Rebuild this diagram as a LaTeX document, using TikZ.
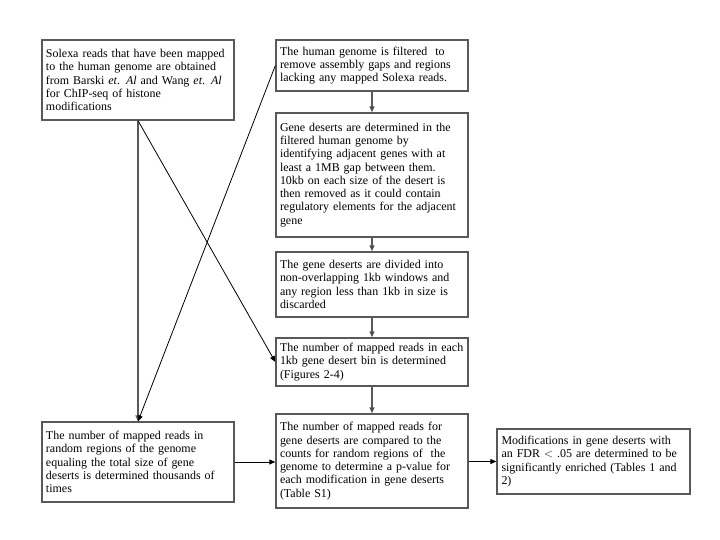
\documentclass[tikz,border=0pt]{standalone}
\usepackage{fontspec}
\setmainfont{Liberation Serif}
\usetikzlibrary{arrows.meta}
\tikzset{
  stepbox/.style={draw=black!65, line width=1.3bp, rectangle, fill=white,
    minimum width=192bp, inner xsep=4bp, inner ysep=2bp, text width=184bp,
    align=left, font=\fontsize{12}{13.3}\selectfont},
  vflow/.style={draw=black!65, line width=1.3bp, -{Triangle[length=6bp,width=5bp,fill=black]}},
  thinflow/.style={draw=black, line width=0.8bp, -{Triangle[length=6bp,width=5bp]}}
}
\begin{document}
\begin{tikzpicture}[x=1bp,y=-1bp]
\useasboundingbox[fill=white] (0,0) rectangle (720,540);

\node[stepbox, minimum height=80bp] (A) at (138,80)
  {Solexa reads that have been mapped\\to the human genome are obtained\\from Barski \textit{et}. \textit{Al} and Wang \textit{et}. \textit{Al}\\for ChIP-seq of histone\\modifications};
\node[stepbox, minimum height=51bp] (B) at (372,65.5)
  {The human genome is filtered\ \ to\\remove assembly gaps and regions\\lacking any mapped Solexa reads.};
\node[stepbox, minimum height=124bp] (C) at (372,175)
  {Gene deserts are determined in the\\filtered human genome by\\identifying adjacent genes with at\\least a 1MB gap between them.\\10kb on each size of the desert is\\then removed as it could contain\\regulatory elements for the adjacent\\gene};
\node[stepbox, minimum height=65bp] (D) at (372,284.5)
  {The gene deserts are divided into\\non-overlapping 1kb windows and\\any region less than 1kb in size is\\discarded};
\node[stepbox, minimum height=48bp] (E) at (372,362)
  {The number of mapped reads in each\\1kb gene desert bin is determined\\(Figures 2-4)};
\node[stepbox, minimum height=94bp] (F) at (372,461)
  {The number of mapped reads for\\gene deserts are compared to the\\counts for random regions of\ \ the\\genome to determine a p-value for\\each modification in gene deserts\\(Table S1)};
\node[stepbox, minimum height=80bp] (G) at (138,462)
  {The number of mapped reads in\\random regions of the genome\\equaling the total size of gene\\deserts is determined thousands of\\times};
\node[stepbox, minimum width=193bp, minimum height=65bp] (H) at (593.5,461.5)
  {Modifications in gene deserts with\\an FDR $<$ .05 are determined to be\\significantly enriched (Tables 1 and\\2)};

\draw[vflow] (B.south) -- (C.north);
\draw[vflow] (C.south) -- (D.north);
\draw[vflow] (D.south) -- (E.north);
\draw[vflow] (E.south) -- (F.north);
\draw[vflow] (A.south) -- (G.north);
\draw[thinflow] (A.south) -- (E.west);
\draw[thinflow] (B.west) -- (G.north);
\draw[thinflow] (G.east) -- (G.east -| F.west);
\draw[thinflow] (F.east |- H.west) -- (H.west);
\end{tikzpicture}
\end{document}
